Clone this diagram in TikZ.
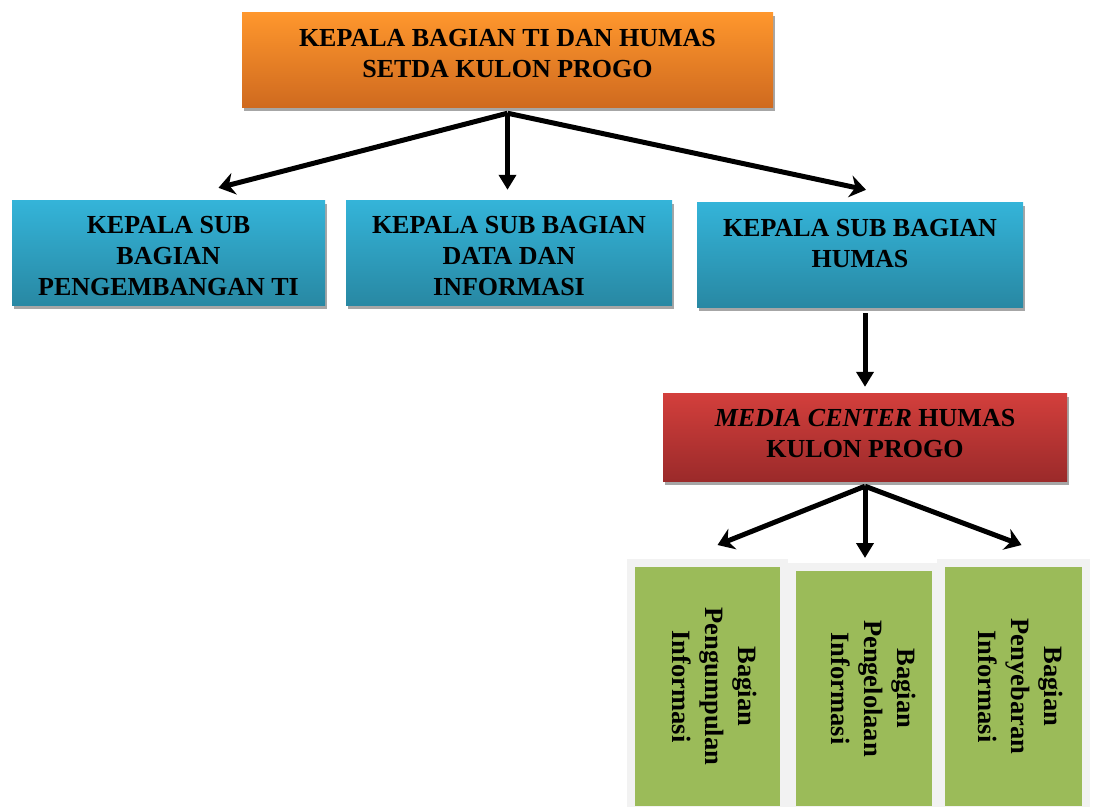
\documentclass[tikz,border=0pt]{standalone}
\usepackage{fontspec}
\setmainfont{Liberation Serif}
\usetikzlibrary{arrows.meta,shadows}

\definecolor{oranyeatas}{HTML}{FF972D}
\definecolor{oranyebawah}{HTML}{CF6A1F}
\definecolor{biruatas}{HTML}{34B4D9}
\definecolor{birubawah}{HTML}{2888A3}
\definecolor{merahatas}{HTML}{D33F3C}
\definecolor{merahbawah}{HTML}{9B2A2A}
\definecolor{hijau}{HTML}{9BBB59}
\definecolor{bingkai}{HTML}{F2F2F2}

\begin{document}
\begin{tikzpicture}[x=1pt,y=-1pt]
  \tikzstyle{kotak}=[rectangle, inner sep=0pt,
    drop shadow={shadow xshift=2pt, shadow yshift=-4pt, fill=black!35, opacity=1}]
  \tikzstyle{teks}=[align=center, font=\bfseries\fontsize{26}{31}\selectfont]
  \tikzstyle{oranye}=[top color=oranyeatas, bottom color=oranyebawah]
  \tikzstyle{biru}=[top color=biruatas, bottom color=birubawah]
  \tikzstyle{merah}=[top color=merahatas, bottom color=merahbawah]
  \tikzstyle{seksi}=[rectangle, inner sep=0pt, fill=hijau, draw=bingkai, line width=8pt,
    font=\bfseries\fontsize{26.5}{33}\selectfont,
    drop shadow={shadow xshift=3pt, shadow yshift=-3pt, fill=black!45, opacity=1}]
  \tikzstyle{panah}=[line width=5pt, -{Stealth[length=16pt,width=22pt]}]
  \tikzstyle{panahlurus}=[line width=5pt, -{Triangle[length=15pt,width=17pt]}]

  \useasboundingbox[fill=white] (0,0) rectangle (1097,806);

  % level atas
  \node[kotak, oranye, minimum width=531pt, minimum height=95pt,
    label={[teks, yshift=6pt]center:KEPALA BAGIAN TI DAN HUMAS\\SETDA KULON PROGO}]
    (kabag) at (507.5,59.5) {};

  % sub bagian
  \node[kotak, biru, minimum width=313pt, minimum height=105pt,
    label={[teks, yshift=-4pt]center:KEPALA SUB\\BAGIAN\\PENGEMBANGAN TI}]
    (sub_1) at (168.5,252.5) {};
  \node[kotak, biru, minimum width=326pt, minimum height=105pt,
    label={[teks, yshift=-4pt]center:KEPALA SUB BAGIAN\\DATA DAN\\INFORMASI}]
    (sub_2) at (509,252.5) {};
  \node[kotak, biru, minimum width=326pt, minimum height=105pt,
    label={[teks, yshift=11pt]center:KEPALA SUB BAGIAN\\HUMAS}]
    (sub_3) at (860,254.5) {};

  % media center
  \node[kotak, merah, minimum width=404pt, minimum height=88pt,
    label={[teks, yshift=3pt]center:\textit{MEDIA CENTER} HUMAS\\KULON PROGO}]
    (mc) at (865,437) {};

  % bagian
  \node[seksi, minimum width=153pt, minimum height=247pt] (b_1) at (707.5,686.5)
    {\hspace{9pt}\rotatebox{-90}{\begin{tabular}{@{}c@{}}Bagian\\Pengumpulan\\Informasi\end{tabular}}};
  \node[seksi, minimum width=144pt, minimum height=243pt] (b_2) at (864,688.5)
    {\hspace{14pt}\rotatebox{-90}{\begin{tabular}{@{}c@{}}Bagian\\Pengelolaan\\Informasi\end{tabular}}};
  \node[seksi, minimum width=145pt, minimum height=247pt] (b_3) at (1013.5,686.5)
    {\hspace{9pt}\rotatebox{-90}{\begin{tabular}{@{}c@{}}Bagian\\Penyebaran\\Informasi\end{tabular}}};

  % cabang panah
  \coordinate (h_0) at ([yshift=-6pt]kabag.south);
  \coordinate (h_1) at ([yshift=-5pt]mc.south);
  \coordinate (u_2) at ([yshift=10pt]sub_2.north);
  \coordinate (a_3) at ([yshift=-6pt]sub_3.south);
  \coordinate (m_0) at ([yshift=6pt]mc.north);
  \coordinate (u_5) at ([yshift=5pt]b_2.north);

  \draw[panah] (h_0) -- ([xshift=50pt,yshift=12pt]sub_1.north);
  \draw[panahlurus] (h_0) -- (h_0 |- u_2);
  \draw[panah] (h_0) -- ([xshift=6pt,yshift=12pt]sub_3.north);

  \draw[panahlurus] (m_0 |- a_3) -- (m_0);

  \draw[panah] (h_1) -- ([xshift=10pt,yshift=14pt]b_1.north);
  \draw[panahlurus] (h_1) -- (h_1 |- u_5);
  \draw[panah] (h_1) -- ([xshift=8pt,yshift=14pt]b_3.north);
\end{tikzpicture}
\end{document}
